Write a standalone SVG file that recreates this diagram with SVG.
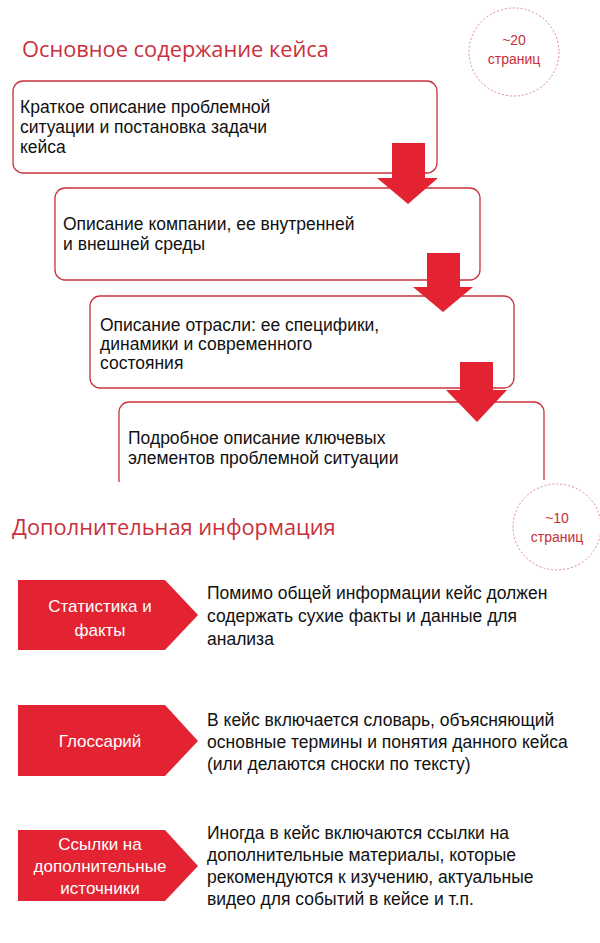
<svg xmlns="http://www.w3.org/2000/svg" width="600" height="943" viewBox="0 0 600 943">
<style>
.t{font-family:"Liberation Sans",Arial,sans-serif;font-size:17.5px;fill:#111}
.h{font-family:"Open Sans","Noto Sans",sans-serif;font-size:21.8px;fill:#c9303b}
.c{font-family:"Liberation Sans",Arial,sans-serif;font-size:14px;fill:#c9303b;text-anchor:middle}
.w{font-family:"Liberation Sans",Arial,sans-serif;font-size:17px;fill:#fff;text-anchor:middle}
.box{fill:#fff;stroke:#c8323c;stroke-width:1.3}
.circ{fill:none;stroke:#d88;stroke-width:1;stroke-dasharray:2 2}
.arr{fill:#e32332}
.tag{fill:#e32332}
</style>
<rect width="600" height="943" fill="#fff"/>
<g id="title1"><text class="h" x="22" y="57">Основное содержание кейса</text></g>
<g id="pages20"><ellipse class="circ" cx="514" cy="52" rx="45" ry="44"/><text class="c" x="514" y="45">~20</text><text class="c" x="514" y="64">страниц</text></g>
<g id="box1"><rect class="box" x="13" y="81" width="424" height="92" rx="10"/>
<text class="t" x="20" y="113">Краткое описание проблемной</text><text class="t" x="20" y="133">ситуации и постановка задачи</text><text class="t" x="20" y="153">кейса</text></g>
<g id="box2"><rect class="box" x="55" y="188" width="425" height="92" rx="10"/>
<text class="t" x="63" y="230">Описание компании, ее внутренней</text><text class="t" x="63" y="250">и внешней среды</text></g>
<g id="box3"><rect class="box" x="90" y="296" width="424" height="92" rx="10"/>
<text class="t" x="100" y="331">Описание отрасли: ее специфики,</text><text class="t" x="100" y="350">динамики и современного</text><text class="t" x="100" y="369">состояния</text></g>
<g id="box4"><path class="box" d="M119,482 V412 A10,10 0 0 1 129,402 H534 A10,10 0 0 1 544,412 V480"/>
<text class="t" x="128" y="444">Подробное описание ключевых</text><text class="t" x="128" y="464">элементов проблемной ситуации</text></g>
<g id="connectors">
<polygon class="arr" points="392,143 425,143 425,178 438,178 408,204 377,178 392,178"/>
<polygon class="arr" points="427,253 460,253 460,287 473,287 443,312 413,287 427,287"/>
<polygon class="arr" points="460,362 493,362 493,390 507,390 477,422 446,390 460,390"/>
</g>
<g id="title2"><text class="h" x="12" y="535">Дополнительная информация</text></g>
<g id="pages10"><ellipse class="circ" cx="557" cy="527" rx="44" ry="43"/><text class="c" x="557" y="523">~10</text><text class="c" x="557" y="542">страниц</text></g>
<g id="stat"><polygon class="tag" points="18,580 165,580 198,615 165,650 18,650"/>
<text class="w" x="100" y="612">Статистика и</text><text class="w" x="100" y="636">факты</text>
<text class="t" x="207" y="599">Помимо общей информации кейс должен</text><text class="t" x="207" y="622">содержать сухие факты и данные для</text><text class="t" x="207" y="645">анализа</text></g>
<g id="gloss"><polygon class="tag" points="18,705 165,705 198,741 165,776 18,776"/>
<text class="w" x="100" y="747">Глоссарий</text>
<text class="t" x="207" y="726">В кейс включается словарь, объясняющий</text><text class="t" x="207" y="748">основные термины и понятия данного кейса</text><text class="t" x="207" y="770">(или делаются сноски по тексту)</text></g>
<g id="links"><polygon class="tag" points="18,830 165,830 198,866 165,901 18,901"/>
<text class="w" x="100" y="850">Ссылки на</text><text class="w" x="100" y="872">дополнительные</text><text class="w" x="100" y="894">источники</text>
<text class="t" x="207" y="839">Иногда в кейс включаются ссылки на</text><text class="t" x="207" y="861">дополнительные материалы, которые</text><text class="t" x="207" y="883">рекомендуются к изучению, актуальные</text><text class="t" x="207" y="905">видео для событий в кейсе и т.п.</text></g>
</svg>
